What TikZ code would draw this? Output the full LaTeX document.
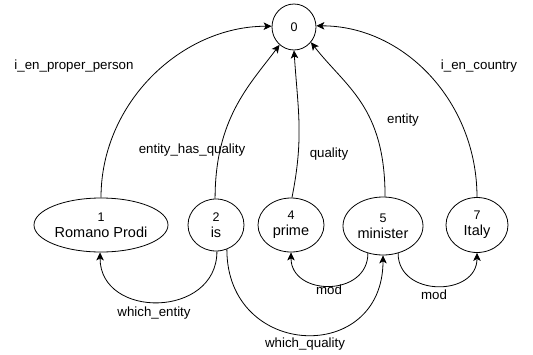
\documentclass[tikz,border=0pt]{standalone}
\usepackage{fontspec}
\setmainfont{Liberation Sans}
\usetikzlibrary{shapes.geometric,arrows.meta}
\newcommand\statetext[2]{{\fontsize{12.5}{13}\selectfont #1}\\{#2}}
\tikzset{
  state/.style={draw, ellipse, line width=0.8pt, inner sep=0pt, align=center,
    font=\fontsize{14.5}{16}\selectfont},
  link/.style={line width=0.8pt, -{Stealth[length=8pt,width=7.5pt,inset=2pt]}},
  lbl/.style={font=\fontsize{13.3}{14}\selectfont, inner sep=0pt},
}
\begin{document}
\begin{tikzpicture}[x=1pt,y=-1pt]
\useasboundingbox (0,0) rectangle (533,354);

% states
\node[state, minimum width=44, minimum height=46] (n0) at (294,27) {\fontsize{12.5}{13}\selectfont 0};
\node[state, minimum width=134, minimum height=54] (n1) at (101,225) {\statetext{1}{Romano Prodi}};
\node[state, minimum width=56, minimum height=52] (n2) at (216,225) {\statetext{2}{is}};
\node[state, minimum width=66, minimum height=54] (n4) at (291,225) {\statetext{4}{prime}};
\node[state, minimum width=80, minimum height=58] (n5) at (383,226) {\statetext{5}{minister}};
\node[state, minimum width=62, minimum height=55] (n7) at (477,225) {\statetext{7}{Italy}};

% links up to the root
\draw[link] (n1.90) .. controls +(0,-95) and +(-90,0) .. (n0.178);
\draw[link] (n2.92) .. controls +(0,-80) and +(-30,40) .. (n0.231);
\draw[link] (n4.88) .. controls +(12,-60) and +(4,60) .. (n0.270);
\draw[link] (n5.86) .. controls +(0,-90) and +(35,45) .. (n0.318);
\draw[link] (n7.90) .. controls +(0,-95) and +(88,0) .. (n0.3);

% links between the words
\draw[link] (n2.272) .. controls +(0,67) and +(0,67) .. (n1.268);
\draw[link] (n2.294) .. controls +(0,110) and +(0,110) .. (n5.270);
\draw[link] (n5.241) .. controls +(0,44) and +(0,44) .. (n4.270);
\draw[link] (n5.299) .. controls +(0,44) and +(0,44) .. (n7.270);

% link labels
\node[lbl] (l10) at (74,66) {i\_en\_proper\_person};
\node[lbl] (l20) at (192,150) {entity\_has\_quality};
\node[lbl] (l40) at (329,154) {quality};
\node[lbl] (l50) at (403,120) {entity};
\node[lbl] (l70) at (479,66) {i\_en\_country};
\node[lbl] (l21) at (154,313) {which\_entity};
\node[lbl] (l25) at (305,344) {which\_quality};
\node[lbl] (l54) at (329,290) {mod};
\node[lbl] (l57) at (434,295) {mod};
\end{tikzpicture}
\end{document}
